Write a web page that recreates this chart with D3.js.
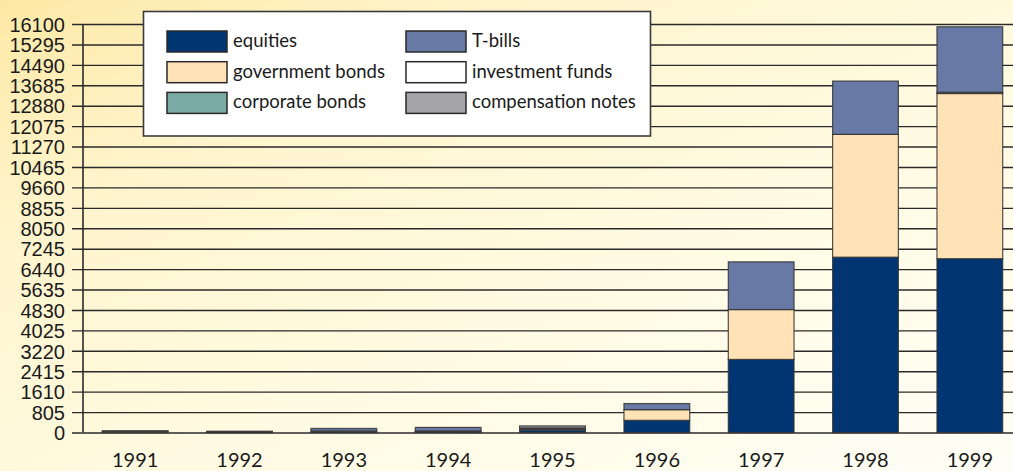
<!DOCTYPE html>
<html>
<head>
<meta charset="utf-8">
<script src="https://cdn.jsdelivr.net/npm/d3@7"></script>
<style>
  html, body { margin: 0; padding: 0; overflow: hidden; }
  svg { display: block; font-family: Lato, "DejaVu Sans", sans-serif; }
</style>
</head>
<body>
<div id="chart"></div>
<script>
// Values
const years = ['1991', '1992', '1993', '1994', '1995', '1996', '1997', '1998', '1999'];
const equities = [0, 30, 20, 40, 90, 480, 2880, 6910, 6850];
const governmentBonds = [0, 0, 40, 20, 40, 420, 1965, 4840, 6510];
const corporateBonds = [40, 0, 0, 0, 0, 0, 0, 0, 50];
const tBills = [0, 0, 100, 140, 50, 240, 1880, 2100, 2580];
const investmentFunds = [0, 0, 0, 0, 0, 0, 0, 0, 0];
const compensationNotes = [30, 20, 0, 0, 80, 0, 0, 0, 0];
const yTicks = d3.range(0, 16101, 805);

const series = [
  { key: 'equities', label: 'equities', values: equities, color: '#013572' },
  { key: 'gov', label: 'government bonds', values: governmentBonds, color: '#ffe2b6' },
  { key: 'corp', label: 'corporate bonds', values: corporateBonds, color: '#7aaaa6' },
  { key: 'tbills', label: 'T-bills', values: tBills, color: '#6779a4' },
  { key: 'funds', label: 'investment funds', values: investmentFunds, color: '#ffffff' },
  { key: 'comp', label: 'compensation notes', values: compensationNotes, color: '#a5a5a9' }
];

const width = 1013, height = 471;
const svg = d3.select('#chart').append('svg')
  .attr('width', width)
  .attr('height', height);

// Background gradient (warm yellow at top-left fading to cream)
const defs = svg.append('defs');
const grad = defs.append('linearGradient')
  .attr('id', 'bg')
  .attr('x1', '0').attr('y1', '0').attr('x2', '1').attr('y2', '1');
grad.append('stop').attr('offset', '0%').attr('stop-color', '#fde9a6');
grad.append('stop').attr('offset', '25%').attr('stop-color', '#fff4cc');
grad.append('stop').attr('offset', '60%').attr('stop-color', '#fffbe3');
grad.append('stop').attr('offset', '100%').attr('stop-color', '#fffef6');
svg.append('rect').attr('width', width).attr('height', height).attr('fill', 'url(#bg)');

const x = d3.scaleBand()
  .domain(years)
  .range([83, 1022])
  .paddingInner(0.37)
  .paddingOuter(0.185);

const y = d3.scaleLinear()
  .domain([0, 16100])
  .range([432.5, 24]);

// Gridlines with tick marks
const yAxis = d3.axisLeft(y)
  .tickValues(yTicks)
  .tickSize(-(width - 83 + 5))
  .tickPadding(18)
  .tickFormat(d3.format('d'));

const gAxis = svg.append('g')
  .attr('transform', 'translate(83,0)')
  .call(yAxis);
gAxis.select('.domain').remove();
gAxis.selectAll('.tick line')
  .attr('x1', -11)
  .attr('stroke', '#2a2a2a')
  .attr('stroke-width', 1.4);
gAxis.selectAll('.tick text')
  .attr('x', -18)
  .attr('fill', '#1a1a1a')
  .attr('font-size', 20)
  .attr('dy', '0.36em');

// vertical axis line
svg.append('line')
  .attr('x1', 83).attr('x2', 83)
  .attr('y1', y(16100)).attr('y2', y(0))
  .attr('stroke', '#2a2a2a')
  .attr('stroke-width', 1.6);

// Stacked bars
const rows = years.map((yr, i) => {
  const r = { year: yr };
  series.forEach(s => { r[s.key] = s.values[i]; });
  return r;
});
const stacked = d3.stack().keys(series.map(s => s.key))(rows);

svg.append('g')
  .selectAll('g')
  .data(stacked)
  .join('g')
  .attr('fill', (d, i) => series[i].color)
  .selectAll('rect')
  .data(d => d.filter(p => p[1] - p[0] > 0))
  .join('rect')
  .attr('x', d => x(d.data.year))
  .attr('width', x.bandwidth())
  .attr('y', d => y(d[1]))
  .attr('height', d => y(d[0]) - y(d[1]))
  .attr('stroke', '#333')
  .attr('stroke-opacity', 0.85)
  .attr('stroke-width', 1.2);

// X labels
svg.append('g')
  .selectAll('text')
  .data(years)
  .join('text')
  .attr('x', d => x(d) + x.bandwidth() / 2)
  .attr('y', 467)
  .attr('text-anchor', 'middle')
  .attr('font-size', 20)
  .attr('fill', '#1a1a1a')
  .text(d => d);

// Legend
const legend = svg.append('g');
legend.append('rect')
  .attr('x', 143.5).attr('y', 11.5)
  .attr('width', 507).attr('height', 124.5)
  .attr('fill', '#ffffff')
  .attr('stroke', '#3a3a3a')
  .attr('stroke-width', 1.6);

const legendOrder = ['equities', 'gov', 'corp', 'tbills', 'funds', 'comp'];
legendOrder.forEach((k, i) => {
  const s = series.find(d => d.key === k);
  const col = Math.floor(i / 3), row = i % 3;
  const lx = col === 0 ? 167 : 406;
  const ly = 31 + row * 30.7;
  legend.append('rect')
    .attr('x', lx).attr('y', ly)
    .attr('width', 60).attr('height', 21)
    .attr('fill', s.color)
    .attr('stroke', '#2a2a2a')
    .attr('stroke-width', 1.5);
  legend.append('text')
    .attr('x', lx + 66)
    .attr('y', ly + 16)
    .attr('font-size', 18.5)
    .attr('fill', '#1a1a1a')
    .text(s.label);
});
</script>
</body>
</html>
